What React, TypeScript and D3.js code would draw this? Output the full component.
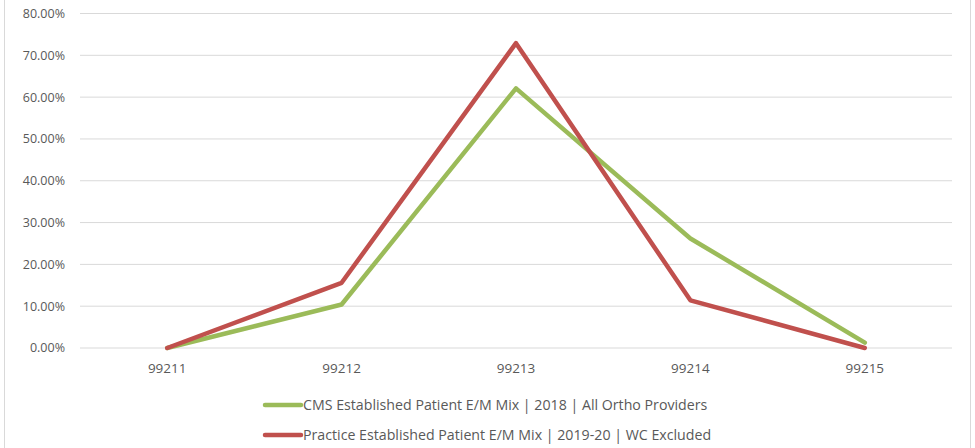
import { useEffect, useRef } from 'react';
import * as d3 from 'd3';

const categories = ['99211', '99212', '99213', '99214', '99215'];
const cmsValues = [0, 10.4, 62.1, 26.2, 1.3];
const practiceValues = [0, 15.6, 72.9, 11.4, 0];
const yTicks = [0, 10, 20, 30, 40, 50, 60, 70, 80];
const seriesNames = [
    'CMS Established Patient E/M Mix | 2018 | All Ortho Providers',
    'Practice Established Patient E/M Mix | 2019-20 | WC Excluded',
];
const seriesColors = ['#9BBB59', '#C0504D'];

export default function App() {
    const ref = useRef<SVGSVGElement | null>(null);
    const width = 975;
    const height = 448;

    useEffect(() => {
        if (!ref.current) return;
        const margin = { top: 13.5, right: 23, bottom: 100, left: 80 };
        const innerWidth = width - margin.left - margin.right;
        const innerHeight = height - margin.top - margin.bottom;

        const svg = d3.select(ref.current);
        svg.selectAll('*').remove();

        svg.append('rect')
            .attr('x', 4.5).attr('y', -2).attr('width', 966).attr('height', height + 4)
            .attr('fill', '#fff').attr('stroke', '#d9d9d9');

        const g = svg.append('g').attr('transform', `translate(${margin.left},${margin.top})`);

        const x = d3.scaleBand().domain(categories).range([0, innerWidth]);
        const y = d3.scaleLinear().domain([0, 80]).range([innerHeight, 0]);

        g.selectAll('line.grid')
            .data(yTicks)
            .join('line')
            .attr('class', 'grid')
            .attr('x1', 0).attr('x2', innerWidth)
            .attr('y1', d => y(d)).attr('y2', d => y(d))
            .attr('stroke', '#d9d9d9').attr('stroke-width', 1);

        const font = "'Open Sans', sans-serif";

        g.selectAll('text.ytick')
            .data(yTicks)
            .join('text')
            .attr('class', 'ytick')
            .attr('x', -15).attr('y', d => y(d)).attr('dy', '0.35em')
            .attr('text-anchor', 'end')
            .attr('font-family', font).attr('font-size', 12.5).attr('fill', '#595959')
            .text(d => d.toFixed(2) + '%');

        g.selectAll('text.xtick')
            .data(categories)
            .join('text')
            .attr('class', 'xtick')
            .attr('x', d => x(d)! + x.bandwidth() / 2).attr('y', innerHeight + 20)
            .attr('dy', '0.35em')
            .attr('text-anchor', 'middle')
            .attr('font-family', font).attr('font-size', 13.5).attr('fill', '#595959')
            .text(d => d);

        const line = d3.line<number>()
            .x((_, i) => x(categories[i])! + x.bandwidth() / 2)
            .y(d => y(d));

        [cmsValues, practiceValues].forEach((vals, i) => {
            g.append('path')
                .datum(vals)
                .attr('d', line)
                .attr('fill', 'none')
                .attr('stroke', seriesColors[i])
                .attr('stroke-width', 4.5)
                .attr('stroke-linejoin', 'round')
                .attr('stroke-linecap', 'round');
        });

        const legend = svg.append('g').attr('transform', 'translate(263,405)');
        seriesNames.forEach((name, i) => {
            const row = legend.append('g').attr('transform', `translate(0,${i * 30})`);
            row.append('line')
                .attr('x1', 2).attr('x2', 38).attr('y1', 0).attr('y2', 0)
                .attr('stroke', seriesColors[i]).attr('stroke-width', 4.5)
                .attr('stroke-linecap', 'round');
            row.append('text')
                .attr('x', 40).attr('y', 0).attr('dy', '0.35em')
                .attr('font-family', font).attr('font-size', 14.2).attr('fill', '#595959')
                .text(name);
        });
    }, []);

    return (
        <div style={{ position: 'absolute', left: 0, top: 0 }}>
            <svg ref={ref} width={width} height={height} style={{ display: 'block' }} />
        </div>
    );
}
